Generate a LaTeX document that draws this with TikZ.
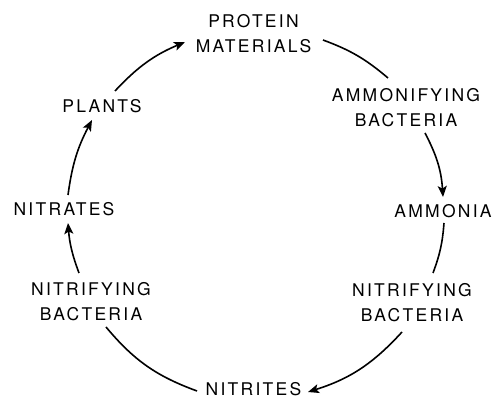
\documentclass[tikz,border=0pt]{standalone}
\usepackage{fontspec}
\newfontfamily\labelfont[LetterSpace=13]{TeX Gyre Heros}
\usetikzlibrary{arrows.meta}
\begin{document}
\begin{tikzpicture}[x=1pt,y=1pt,
  lbl/.style={inner sep=0pt, align=center, font=\labelfont\fontsize{17.5}{25}\selectfont},
  link/.style={line width=1.6pt},
  flow/.style={link, -{Stealth[length=11pt,width=9pt,inset=2.5pt]}}]
\useasboundingbox (0,0) rectangle (496,399);
\node[lbl] (prot) at (253.5,365.5) {PROTEIN\\MATERIALS};
\node[lbl] (ammon) at (406,291) {AMMONIFYING\\BACTERIA};
\node[lbl] (ammonia) at (443,188) {AMMONIA};
\node[lbl] (nitR) at (412,96) {NITRIFYING\\BACTERIA};
\node[lbl] (nitrites) at (253.5,10) {NITRITES};
\node[lbl] (nitL) at (91,97) {NITRIFYING\\BACTERIA};
\node[lbl] (nitrates) at (64,190) {NITRATES};
\node[lbl] (plants) at (102,293) {PLANTS};
\draw[flow] ([shift={(13,15)}]plants.center) to[bend left=12] ([shift={(-68.5,-8.5)}]prot.center);
\draw[link] ([shift={(69.5,-6.5)}]prot.center) to[bend left=10] ([shift={(-18,30)}]ammon.center);
\draw[flow] ([shift={(19,-25)}]ammon.center) to[bend left=12] ([shift={(0,14)}]ammonia.center);
\draw[link] ([shift={(1,-12)}]ammonia.center) to[bend left=8] ([shift={(21,30)}]nitR.center);
\draw[flow] ([shift={(-10,-29)}]nitR.center) to[bend left=15] ([shift={(54.5,-3)}]nitrites.center);
\draw[link] ([shift={(-56.5,-2)}]nitrites.center) to[bend left=15] ([shift={(15,-25)}]nitL.center);
\draw[flow] ([shift={(-12,29)}]nitL.center) to[bend left=8] ([shift={(4,-14)}]nitrates.center);
\draw[flow] ([shift={(4,14)}]nitrates.center) to[bend left=10] ([shift={(-10,-14)}]plants.center);
\end{tikzpicture}
\end{document}
